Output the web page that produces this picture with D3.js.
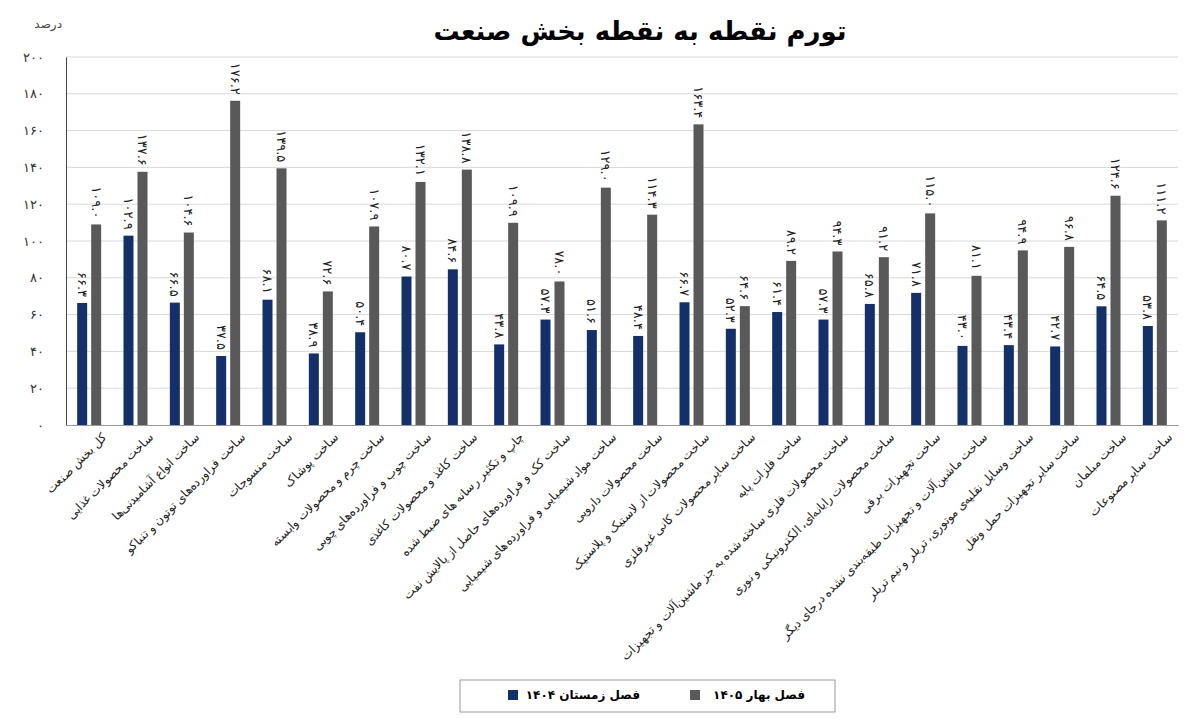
<!DOCTYPE html>
<html><head><meta charset="utf-8">
<script src="https://cdn.jsdelivr.net/npm/d3@7"></script>
<style>body{margin:0;background:#fff;font-family:"DejaVu Sans","Noto Sans",sans-serif}</style>
</head><body><div id="chart"></div>
<script>
var categories = ["کل بخش صنعت","ساخت محصولات غذایی","ساخت انواع آشامیدنی‌ها","ساخت فراورده‌های توتون و تنباکو","ساخت منسوجات","ساخت پوشاک","ساخت چرم و محصولات وابسته","ساخت چوب و فراورده‌های چوبی","ساخت کاغذ و محصولات کاغذی","چاپ و تکثیر رسانه های ضبط شده","ساخت کک و فراورده‌های حاصل از پالایش نفت","ساخت مواد شیمیایی و فراورده‌های شیمیایی","ساخت محصولات دارویی","ساخت محصولات از لاستیک و پلاستیک","ساخت سایر محصولات کانی غیرفلزی","ساخت فلزات پایه","ساخت محصولات فلزی ساخته شده به جز ماشین‌آلات و تجهیزات","ساخت محصولات رایانه‌ای، الکترونیکی و نوری","ساخت تجهیزات برقی","ساخت ماشین‌آلات و تجهیزات طبقه‌بندی نشده درجای دیگر","ساخت وسایل نقلیه‌ی موتوری، تریلر و نیم تریلر","ساخت سایر تجهیزات حمل ونقل","ساخت مبلمان","ساخت سایر مصنوعات"];
var winter1404 = [66.3,102.9,66.5,37.5,68.1,38.9,50.4,80.7,84.6,43.8,57.3,51.6,48.4,66.7,52.3,61.4,57.3,65.8,71.8,43.0,43.4,42.7,64.5,53.8];
var spring1405 = [109.0,137.6,104.6,176.2,139.5,72.6,107.9,132.1,138.8,109.9,78.0,129.0,114.3,163.4,64.6,89.2,94.3,91.2,115.0,81.1,94.9,96.8,124.6,111.2];
var yTicks = [0,20,40,60,80,100,120,140,160,180,200];
var seriesNames = ["فصل زمستان ۱۴۰۴","فصل بهار ۱۴۰۵"];
var colors = ["#13306b","#595959"];

function fa(s){ return String(s).replace(/\d/g, function(d){ return "۰۱۲۳۴۵۶۷۸۹"[d]; }); }

var W = 1200, H = 727;
var margin = {top: 57, right: 22, bottom: 302, left: 66};
var width = W - margin.left - margin.right, height = H - margin.top - margin.bottom;

var svg = d3.select("#chart").append("svg").attr("width", W).attr("height", H);
var g = svg.append("g").attr("transform", "translate(" + margin.left + "," + margin.top + ")");

svg.append("text").attr("x", 640).attr("y", 40).attr("text-anchor", "middle")
  .style("font-size", "26px").style("font-weight", "bold").attr("direction", "rtl")
  .text("تورم نقطه به نقطه بخش صنعت");
svg.append("text").attr("x", 62).attr("y", 28).attr("text-anchor", "end")
  .style("font-size", "12px").attr("fill", "#444").text("درصد");

var x = d3.scaleBand().domain(d3.range(categories.length)).range([0, width]).paddingInner(0).paddingOuter(0);
var y = d3.scaleLinear().domain([0, 200]).range([height, 0]);
var bw = 10;

// grid
g.selectAll(".grid").data(yTicks.slice(1)).enter().append("line")
  .attr("x1", 0).attr("x2", width).attr("y1", d => y(d)).attr("y2", d => y(d))
  .attr("stroke", "#d9d9d9");

var yAxis = g.append("g").call(d3.axisLeft(y).tickValues(yTicks).tickSize(0).tickFormat(d => fa(d)));
yAxis.select(".domain").attr("stroke", "#444");
yAxis.selectAll("text").attr("x", -22).style("font-size", "13px").attr("fill", "#333");

var xAxis = g.append("g").attr("transform", "translate(0," + height + ")")
  .call(d3.axisBottom(x).tickSize(0).tickFormat(i => categories[i]));
xAxis.select(".domain").attr("stroke", "#999");
xAxis.selectAll("text")
  .attr("direction", "rtl").attr("text-anchor", "start")
  .attr("transform", "translate(" + (x.bandwidth() / 2 - 8) + ",10) rotate(-45)")
  .attr("x", 0).attr("y", 0).attr("dy", "0.35em")
  .style("font-size", "12px").attr("fill", "#222");

[winter1404, spring1405].forEach(function(vals, s) {
  var off = s === 0 ? x.bandwidth() / 2 - bw - 2 : x.bandwidth() / 2 + 2;
  g.selectAll(".bar" + s).data(vals).enter().append("rect")
    .attr("x", (d, i) => x(i) + off).attr("width", bw)
    .attr("y", d => y(d)).attr("height", d => height - y(d))
    .attr("fill", colors[s]);
  g.selectAll(".lab" + s).data(vals).enter().append("text")
    .attr("transform", (d, i) => "translate(" + (x(i) + off + bw / 2) + "," + (y(d) - 6) + ") rotate(90)")
    .attr("text-anchor", "end").attr("dy", "0.35em")
    .style("direction", "ltr").style("unicode-bidi", "bidi-override")
    .style("font-size", "13px").attr("fill", "#222")
    .text(d => fa(d.toFixed(1)));
});

// legend
var lg = svg.append("g");
lg.append("rect").attr("x", 460).attr("y", 680).attr("width", 375).attr("height", 32)
  .attr("fill", "#fff").attr("stroke", "#999");
var items = [{x: 690, c: colors[1], t: seriesNames[1], tx: 805}, {x: 508, c: colors[0], t: seriesNames[0], tx: 640}];
items.forEach(function(it) {
  lg.append("rect").attr("x", it.x).attr("y", 690).attr("width", 10).attr("height", 10).attr("fill", it.c);
  lg.append("text").attr("x", it.tx).attr("y", 699).attr("text-anchor", "end")
    .attr("direction", "ltr").style("font-size", "12px").style("font-weight", "bold").text(it.t);
});
</script></body></html>
